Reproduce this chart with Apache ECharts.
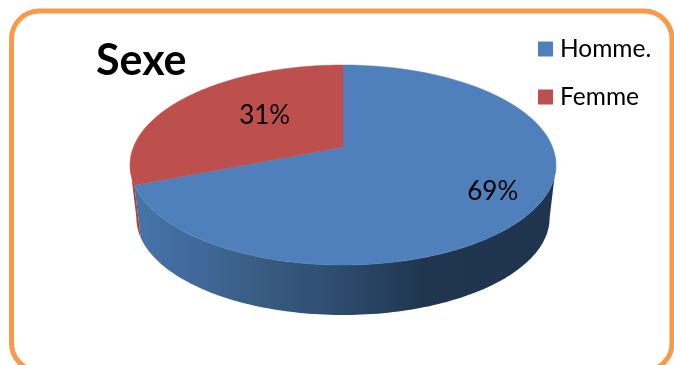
<!DOCTYPE html>
<html><head><meta charset="utf-8">
<style>html,body{margin:0;padding:0;background:#fff;overflow:hidden}#c{width:674px;height:365px}</style>
<script src="https://cdn.jsdelivr.net/npm/echarts@6/dist/echarts.min.js"></script>
</head><body><div id="c"></div>
<script>
const categories = ['Homme.', 'Femme'];
const values = [69, 31];
const percentLabels = ['69%', '31%'];
const seriesColors = ['#4f80bb', '#bd4f4d'];

// Perspective projection of the pie disc: ellipse 213 x 100 around (343,165), apex at (343,147)
const CX = 343, APEX_Y = 147, ELL_Y = 165, PERSP = -0.18, SX = 209.5, SY = 96.76;
const BOTTOM_Y = 218, BOTTOM_SCALE = 0.97;
const LABEL_R = [0.78, 0.48];
const LABEL_NUDGE = [[3, -1], [1, -6]];
// Part of the rim facing the viewer, as a fraction of the turn clockwise from the top
const FRONT_FROM = 0.279, FRONT_TO = 0.721;
const total = values.reduce((a, b) => a + b, 0);

function project(frac, r) {
  const t = frac * 2 * Math.PI, u = r * Math.sin(t), v = -r * Math.cos(t), w = 1 + PERSP * v;
  return [CX + SX * u / w, APEX_Y + SY * v / w];
}
function lower(p) {
  return [CX + (p[0] - CX) * BOTTOM_SCALE, BOTTOM_Y + (p[1] - ELL_Y) * BOTTOM_SCALE];
}
function sweep(from, to, n) {
  const pts = [];
  for (let i = 0; i <= n; i++) pts.push(project(from + (to - from) * i / n, 1));
  return pts;
}
function renderSlice(idx) {
  return function (params, api) {
    const share = api.value(0) / total;
    const start = values.slice(0, idx).reduce((a, b) => a + b, 0) / total;
    const end = start + share;
    const top = [project(0, 0)].concat(sweep(start, end, 160));
    const lp = project(start + share / 2, LABEL_R[idx]);
    const wallFill = idx === 0
      ? new echarts.graphic.LinearGradient(133, 0, 556, 0, [
          { offset: 0, color: '#4674aa' },
          { offset: 0.16, color: '#40689a' },
          { offset: 0.25, color: '#3b6089' },
          { offset: 0.47, color: '#2e4d70' },
          { offset: 0.68, color: '#203650' },
          { offset: 1, color: '#1f344e' }
        ], true)
      : '#a8403e';
    const from = Math.max(start, FRONT_FROM), to = Math.min(end, FRONT_TO);
    const rim = sweep(from, to, 120);
    const wall = rim.concat(rim.map(lower).reverse());
    return {
      type: 'group',
      children: [
        { type: 'polygon', z2: 1, shape: { points: wall }, style: { fill: wallFill } },
        { type: 'polygon', z2: 5, shape: { points: top }, style: { fill: seriesColors[idx], stroke: seriesColors[idx], lineWidth: 0.5 } },
        { type: 'text', z2: 10, x: lp[0] + LABEL_NUDGE[idx][0], y: lp[1] + LABEL_NUDGE[idx][1], style: {
            text: percentLabels[idx], fill: '#000', fontFamily: 'Lato', fontSize: 26,
            align: 'center', verticalAlign: 'middle' } }
      ]
    };
  };
}
const chart = echarts.init(document.getElementById('c'), null, { renderer: 'canvas' });
chart.setOption({
  animation: false,
  backgroundColor: '#fff',
  title: { text: 'Sexe', left: 91, top: 35, textStyle: { fontFamily: 'Lato', fontWeight: 'bold', fontSize: 43, color: '#000' } },
  legend: {
    orient: 'vertical', left: 538, top: 36, itemWidth: 15, itemHeight: 15, itemGap: 22, icon: 'rect',
    padding: 0, selectedMode: false,
    textStyle: { fontFamily: 'Lato', fontSize: 24.5, color: '#000', padding: [0, 0, 0, 2], lineHeight: 26 },
    data: categories
  },
  graphic: [{
    type: 'rect', silent: true, z: -1,
    shape: { x: 11.5, y: 11, width: 660.5, height: 360, r: 28 },
    style: { fill: '#fff', stroke: '#f99a4b', lineWidth: 5 }
  }],
  series: categories.map((name, i) => ({
    type: 'custom', name, coordinateSystem: 'none', silent: true,
    itemStyle: { color: seriesColors[i] },
    data: [[values[i]]],
    renderItem: renderSlice(i)
  }))
});
</script></body></html>
